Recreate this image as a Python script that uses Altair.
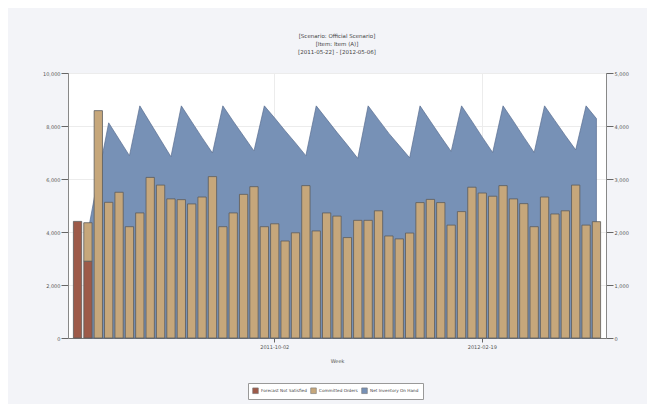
import altair as alt
import pandas as pd

# ---- data ----
weeks = [d.strftime("%Y-%m-%d") for d in pd.date_range("2011-05-22", periods=51, freq="7D")]

series_names = ["Forecast Not Satisfied", "Committed Orders", "Net Inventory On Hand"]
series_colors = ["#9d5a49", "#c6a77b", "#7791b6"]

unsatisfied_weeks = ["2011-05-22", "2011-05-29"]
unsatisfied_values = [4400, 2900]

committed_values = [0, 1450, 8580, 5120, 5500, 4200, 4720, 6060, 5770, 5250,
                    5220, 5060, 5320, 6090, 4200, 4720, 5420, 5710, 4200, 4310,
                    3660, 3970, 5750, 4040, 4720, 4600, 3790, 4440, 4440, 4800,
                    3850, 3740, 3960, 5110, 5230, 5110, 4260, 4770, 5690, 5470,
                    5350, 5750, 5250, 5070, 4200, 5320, 4680, 4800, 5770, 4260,
                    4390]

# net inventory on hand (right axis), weeks 2..51
inventory_values = [2000, 3050, 4060, 3750, 3440, 4380, 4060, 3740, 3420, 4380,
                    4080, 3780, 3490, 4380, 4090, 3810, 3530, 4380, 4150, 3910,
                    3680, 3440, 4380, 4130, 3880, 3640, 3390, 4380, 4120, 3860,
                    3630, 3400, 4380, 4090, 3800, 3520, 4380, 4090, 3790, 3500,
                    4380, 4090, 3790, 3500, 4380, 4100, 3820, 3550, 4380, 4140]

x_tick_values = ["2011-10-02", "2012-02-19"]
left_ticks = [0, 2000, 4000, 6000, 8000, 10000]
right_ticks = [0, 1000, 2000, 3000, 4000, 5000]
title_lines = ["[Scenario: Official Scenario]", "[Item: Item (A)]", "[2011-05-22] - [2012-05-06]"]

# ---- tables ----
rows = []
for w, v in zip(unsatisfied_weeks, unsatisfied_values):
    rows.append({"week": w, "value": v, "series": series_names[0], "ord": 0})
for w, v in zip(weeks, committed_values):
    if v > 0:
        rows.append({"week": w, "value": v, "series": series_names[1], "ord": 1})
bars_df = pd.DataFrame(rows)

area_df = pd.DataFrame({"week": weeks[1:], "value": inventory_values,
                        "series": series_names[2]})

FONT = "DejaVu Sans"
LBL = "format(datum.value, ',')"

color = alt.Color("series:N",
                  scale=alt.Scale(domain=series_names, range=series_colors),
                  legend=alt.Legend(title=None, orient="none", legendX=180, legendY=310,
                                    direction="horizontal", symbolType="square",
                                    symbolSize=32, symbolStrokeColor="#777",
                                    symbolStrokeWidth=0.6, labelFontSize=4.2,
                                    labelFont=FONT, labelColor="#444",
                                    strokeColor="#999", fillColor="white",
                                    padding=4, columnPadding=2, labelOffset=2))

x_enc = alt.X("week:O",
              scale=alt.Scale(paddingInner=0.2, paddingOuter=0.52),
              axis=alt.Axis(title="Week", values=x_tick_values, labelAngle=0,
                            labelFontSize=5, labelFont=FONT, labelColor="#555",
                            titleFontSize=5, titleFont=FONT, titleFontWeight="normal",
                            titleColor="#555", titlePadding=9, tickSize=4,
                            tickColor="#666", domainColor="#777", grid=True,
                            gridColor="#ececec", labelPadding=2))

area = alt.Chart(area_df).mark_area(stroke="#5a6e90", strokeWidth=0.7, opacity=1).encode(
    x=x_enc,
    y=alt.Y("value:Q", scale=alt.Scale(domain=[0, 5000]),
            axis=alt.Axis(orient="right", title=None, values=right_ticks,
                          labelExpr=LBL, labelFontSize=5, labelFont=FONT, labelColor="#555",
                          tickSize=7, tickColor="#666", domainColor="#888",
                          labelPadding=1, grid=False)),
    color=color,
)

bars = alt.Chart(bars_df).mark_bar(stroke="#5c5c5c", strokeWidth=0.8).encode(
    x=x_enc,
    y=alt.Y("value:Q", stack="zero", scale=alt.Scale(domain=[0, 10000]),
            axis=alt.Axis(title=None, values=left_ticks,
                          labelExpr=LBL, labelFontSize=5, labelFont=FONT, labelColor="#555",
                          tickSize=7, tickColor="#666", domainColor="#888",
                          labelPadding=1, grid=True, gridColor="#ececec")),
    color=color,
    order=alt.Order("ord:Q"),
)

chart = alt.layer(area, bars).resolve_scale(y="independent").properties(
    width=538, height=265,
    padding={"left": 60, "top": 65, "right": 41, "bottom": 66},
    autosize=alt.AutoSizeParams(type="none"),
    background="#f3f4f8",
    title=alt.TitleParams(text=title_lines, fontSize=5.5, font=FONT, color="#444",
                          fontWeight="normal", anchor="middle", offset=16, lineHeight=8),
).configure_view(fill="white", stroke="#777", strokeWidth=1)

chart.save("out.html", embed_options={"renderer": "svg", "actions": False})
